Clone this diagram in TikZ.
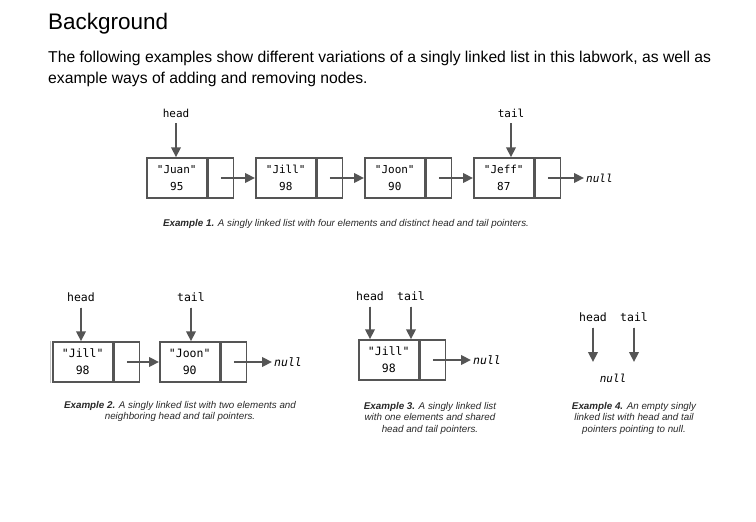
\documentclass[tikz,border=0pt]{standalone}
\usepackage{fontspec}
\setmainfont{Liberation Sans}
\newfontfamily\monof{DejaVu Sans Mono}
\usetikzlibrary{arrows.meta}
\definecolor{lg}{RGB}{85,85,85}
\definecolor{capc}{RGB}{40,40,40}
\tikzset{
  datab/.style={draw=lg, line width=1.5pt, minimum width=60pt, minimum height=40pt,
    inner sep=0pt, align=center, anchor=west,
    font=\monof\fontsize{11}{17}\selectfont},
  ptrc/.style={draw=lg, line width=1.5pt, minimum width=25pt, minimum height=40pt,
    inner sep=0pt, anchor=west},
  ptr/.style={-{Triangle[length=10pt,width=9.5pt]}, draw=lg, fill=lg, line width=2.3pt},
  lab/.style={font=\monof\fontsize{11}{13}\selectfont, inner sep=2pt},
  nullt/.style={font=\monof\itshape\fontsize{11}{13}\selectfont, inner sep=2pt, anchor=west},
  capt/.style={font=\fontsize{9.8}{11.5}\selectfont\itshape, text=capc, align=center, inner sep=0pt},
  pdown/.style={ptr, shorten <=4pt}
}
\begin{document}
\begin{tikzpicture}[x=1pt,y=-1pt]
\useasboundingbox (0,0) rectangle (756,522);

% title and paragraph
\node[anchor=base west, inner sep=0pt, font=\fontsize{22.5}{27}\selectfont] (title) at (48,30) {Background};
\node[anchor=base west, inner sep=0pt, font=\fontsize{15.7}{20}\selectfont] (para1) at (48,63)
  {The following examples show different variations of a singly linked list in this labwork, as well as};
\node[anchor=base west, inner sep=0pt, font=\fontsize{15.7}{20}\selectfont] (para2) at (48,83)
  {example ways of adding and removing nodes.};

% ---------- Example 1 ----------
\node[datab] (a1) at (146,178) {"Juan"\\95};
\node[ptrc] (ap1) at (a1.east) {};
\node[datab] (a2) at (255,178) {"Jill"\\98};
\node[ptrc] (ap2) at (a2.east) {};
\node[datab] (a3) at (364,178) {"Joon"\\90};
\node[ptrc] (ap3) at (a3.east) {};
\node[datab] (a4) at (473,178) {"Jeff"\\87};
\node[ptrc] (ap4) at (a4.east) {};
\node[nullt] (an) at (584,178) {null};
\draw[ptr] (ap1.center) -- (a2.west);
\draw[ptr] (ap2.center) -- (a3.west);
\draw[ptr] (ap3.center) -- (a4.west);
\draw[ptr] (ap4.center) -- (an.west);
\node[lab] (ah) at (176,113) {head};
\node[lab] (at) at (511,113) {tail};
\draw[pdown] (ah) -- (ah |- a1.north);
\draw[pdown] (at) -- (at |- a4.north);
\node[capt] (c1) at (346,224) {\textbf{Example 1.} A singly linked list with four elements and distinct head and tail pointers.};

% ---------- Example 2 ----------
\node[datab, font=\monof\fontsize{11.5}{17}\selectfont] (b1) at (52,362) {"Jill"\\98};
\node[ptrc] (bp1) at (b1.east) {};
\node[datab, font=\monof\fontsize{11.5}{17}\selectfont] (b2) at (159,362) {"Joon"\\90};
\node[ptrc] (bp2) at (b2.east) {};
\draw[gray!45, line width=1pt] ([xshift=-1.4pt]b1.north west) -- ([xshift=-1.4pt]b1.south west);
\node[nullt, font=\monof\itshape\fontsize{11.5}{13}\selectfont] (bn) at (272,362) {null};
\draw[ptr] (bp1.center) -- (b2.west);
\draw[ptr] (bp2.center) -- (bn.west);
\node[lab, font=\monof\fontsize{11.5}{13}\selectfont] (bh) at (81,297) {head};
\node[lab, font=\monof\fontsize{11.5}{13}\selectfont] (bt) at (191,297) {tail};
\draw[pdown] (bh) -- (bh |- b1.north);
\draw[pdown] (bt) -- (bt |- b2.north);
\node[capt] (c2) at (180,411.5) {\textbf{Example 2.} A singly linked list with two elements and\\neighboring head and tail pointers.};

% ---------- Example 3 ----------
\node[datab, font=\monof\fontsize{11.5}{17}\selectfont] (e1) at (358,360) {"Jill"\\98};
\node[ptrc] (ep1) at (e1.east) {};
\node[nullt, font=\monof\itshape\fontsize{11.5}{13}\selectfont] (en) at (471,360) {null};
\draw[ptr] (ep1.center) -- (en.west);
\node[lab, font=\monof\fontsize{11.5}{13}\selectfont] (eh) at (370,296) {head};
\node[lab, font=\monof\fontsize{11.5}{13}\selectfont] (et) at (411,296) {tail};
\draw[pdown] (eh) -- (eh |- e1.north);
\draw[pdown] (et) -- (et |- e1.north);
\node[capt] (c3) at (430,418) {\textbf{Example 3.} A singly linked list\\with one elements and shared\\head and tail pointers.};

% ---------- Example 4 ----------
\node[lab, font=\monof\fontsize{11.5}{13}\selectfont] (fh) at (593,317) {head};
\node[lab, font=\monof\fontsize{11.5}{13}\selectfont] (ft) at (634,317) {tail};
\coordinate (fhe) at (593,362);
\coordinate (fte) at (634,362);
\draw[pdown] (fh) -- (fhe);
\draw[pdown] (ft) -- (fte);
\node[nullt, anchor=center] (fn) at (613,378) {null};
\node[capt] (c4) at (634,418) {\textbf{Example 4.} An empty singly\\linked list with head and tail\\pointers pointing to null.};
\end{tikzpicture}
\end{document}
